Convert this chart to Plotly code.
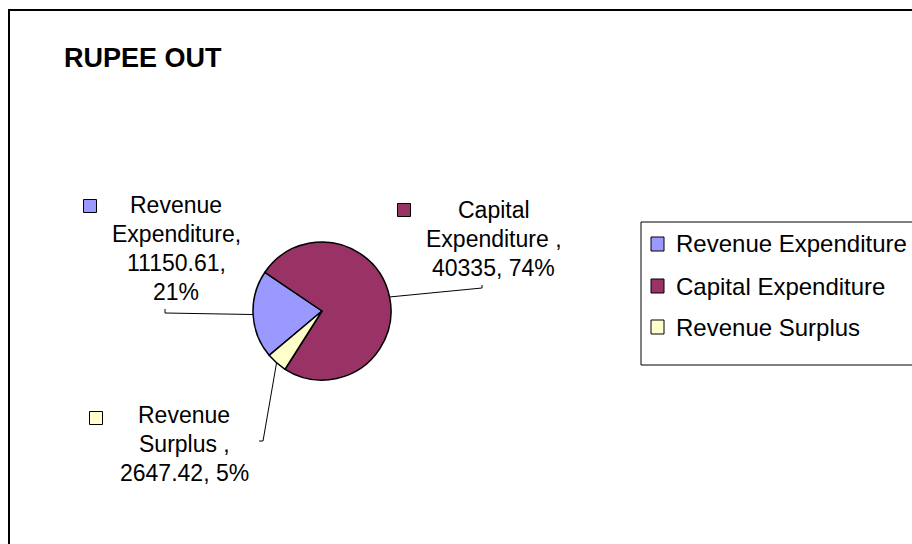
import math
import textwrap
import plotly.graph_objects as go

# ---------------- data ----------------
title_text = "RUPEE OUT"
categories = ["Revenue Expenditure", "Capital Expenditure ", "Revenue Surplus "]
values = [11150.61, 40335, 2647.42]
value_labels = ["11150.61", "40335", "2647.42"]
percent_labels = ["21%", "74%", "5%"]
colors = ["#9999FF", "#993366", "#FFFFCC"]

# ---------------- layout constants (pixels) ----------------
W, H = 912, 544
FONT = "Liberation Sans, Arial, sans-serif"


def px(x):
    return x / W


def py(y):
    return 1 - y / H


cx, cy, R = 322, 311, 69
start_angle = 230  # clockwise from 12 o'clock

label_x = [176, 494, 184]
label_first_line_y = [205, 210, 415]
line_step = 29
wrap_widths = [12, 13, 12]
label_keys = [(90, 206), (404, 210), (96, 418)]
leader_ends = [(165, 313), (482, 288), (263, 441)]
hooks = [(165, 309), (482, 285), (259, 441)]

legend_box = (641, 222, 940, 365)
legend_rows = [244, 286, 327]
legend_key_x = 651
legend_text_x = 674

fig = go.Figure(
    go.Pie(
        labels=[c.strip() for c in categories],
        values=values,
        sort=False,
        direction="clockwise",
        rotation=start_angle,
        marker=dict(colors=colors, line=dict(color="black", width=1.5)),
        textinfo="none",
        showlegend=False,
        domain=dict(x=[px(cx - R), px(cx + R)], y=[py(cy + R), py(cy - R)]),
    )
)

shapes = []
annotations = []

# outer chart border
shapes.append(dict(type="rect", xref="paper", yref="paper",
                   x0=px(9), y0=py(10), x1=px(940), y1=py(580),
                   line=dict(color="black", width=2)))

# title
annotations.append(dict(text=f"<b>{title_text}</b>", x=px(62), y=py(58),
                        xref="paper", yref="paper", xanchor="left", yanchor="middle",
                        showarrow=False, font=dict(family=FONT, size=27, color="black")))

# data labels with leader lines
total = sum(values)
cum = 0.0
for i, (cat, val, vl, pl) in enumerate(zip(categories, values, value_labels, percent_labels)):
    mid = start_angle + 360 * (cum + val / 2) / total
    cum += val
    a = math.radians(mid)
    ex, ey = cx + R * math.sin(a), cy - R * math.cos(a)
    lx, ly = leader_ends[i]
    hx, hy = hooks[i]
    shapes.append(dict(type="line", xref="paper", yref="paper",
                       x0=px(ex), y0=py(ey), x1=px(lx), y1=py(ly),
                       line=dict(color="black", width=1)))
    shapes.append(dict(type="line", xref="paper", yref="paper",
                       x0=px(lx), y0=py(ly), x1=px(hx), y1=py(hy),
                       line=dict(color="black", width=1)))
    lines = textwrap.wrap(f"{cat}, {vl}, {pl}", wrap_widths[i])
    for j, line in enumerate(lines):
        annotations.append(dict(text=line, x=px(label_x[i]),
                                y=py(label_first_line_y[i] + j * line_step),
                                xref="paper", yref="paper",
                                xanchor="center", yanchor="middle", align="center",
                                showarrow=False,
                                font=dict(family=FONT, size=23, color="black")))
    kx, ky = label_keys[i]
    shapes.append(dict(type="rect", xref="paper", yref="paper",
                       x0=px(kx - 6.5), y0=py(ky - 6.5), x1=px(kx + 6.5), y1=py(ky + 6.5),
                       fillcolor=colors[i], line=dict(color="black", width=1)))

# legend
lx0, ly0, lx1, ly1 = legend_box
shapes.append(dict(type="rect", xref="paper", yref="paper",
                   x0=px(lx0), y0=py(ly0), x1=px(lx1), y1=py(ly1),
                   line=dict(color="black", width=1)))
for i, cat in enumerate(categories):
    ry = legend_rows[i]
    shapes.append(dict(type="rect", xref="paper", yref="paper",
                       x0=px(legend_key_x), y0=py(ry - 7), x1=px(legend_key_x + 13), y1=py(ry + 7),
                       fillcolor=colors[i], line=dict(color="black", width=1)))
    annotations.append(dict(text=cat.strip(), x=px(legend_text_x), y=py(ry),
                            xref="paper", yref="paper", xanchor="left", yanchor="middle",
                            showarrow=False, font=dict(family=FONT, size=24, color="black")))

fig.update_layout(
    width=W, height=H,
    margin=dict(l=0, r=0, t=0, b=0),
    paper_bgcolor="white", plot_bgcolor="white",
    shapes=shapes, annotations=annotations,
    showlegend=False,
)

fig.write_html("out.html", config={"displayModeBar": False},
               post_script="document.body.style.margin='0';")
